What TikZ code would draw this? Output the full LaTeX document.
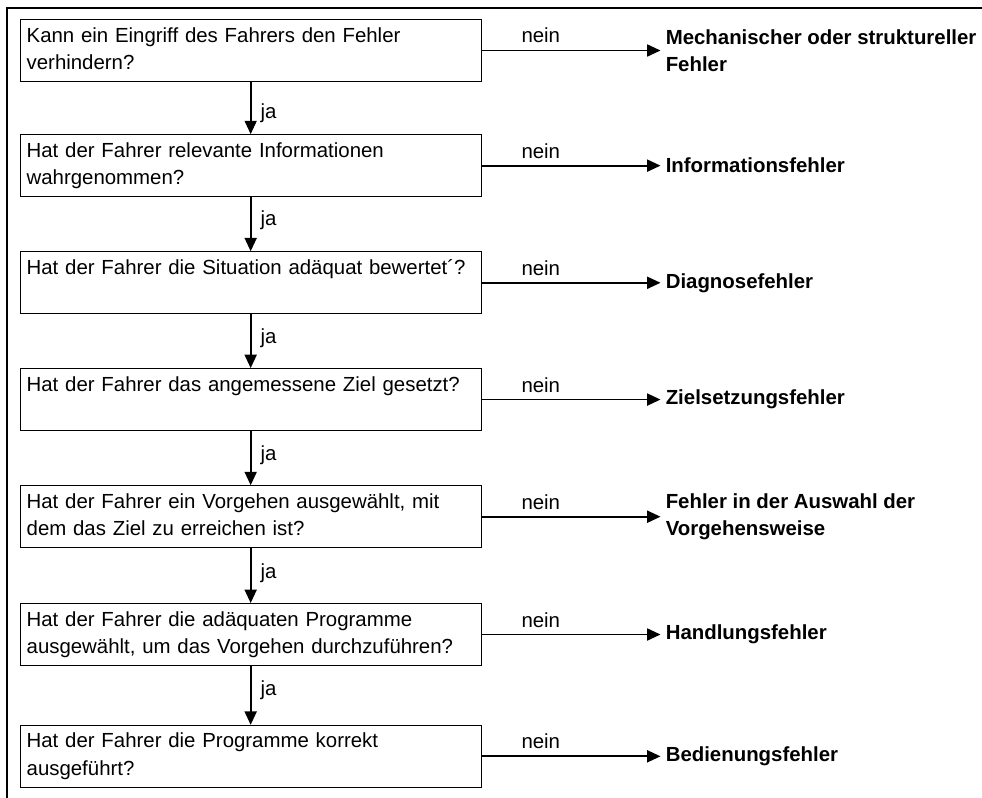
\documentclass[tikz,border=0pt]{standalone}
\usepackage{fontspec}
\setmainfont{Liberation Sans}
\usetikzlibrary{arrows.meta}
\usetikzlibrary{positioning}

\begin{document}
\begin{tikzpicture}[x=0.75pt, y=-0.75pt,
        frage/.style={rectangle, draw=black, line width=0.75pt, anchor=north west, align=left,
        text width=336pt, inner xsep=5pt, inner ysep=3pt, text height=14pt, text depth=26.5pt,
        font=\fontsize{15.3}{20.6}\selectfont},
        fehler/.style={rectangle, align=left, inner xsep=3.75pt, font=\fontsize{15.3}{20.6}\selectfont\bfseries},
        pfeil/.style={line width=1.3pt, -{Triangle[length=10pt, width=9pt]}},
        marke/.style={font=\fontsize{15.3}{17}\selectfont}]
    \useasboundingbox (0,0) rectangle (982,797);
    \clip (0,0) rectangle (982,797);
    \draw[line width=1.5pt] (7.3,8.3) rectangle (1000,820);

    \node[frage] (q1) at (19.5,19) {Kann ein Eingriff des Fahrers den Fehler\\verhindern?};
    \node[frage, below=39.1pt of q1] (q2) {Hat der Fahrer relevante Informationen\\wahrgenommen?};
    \node[frage, below=40.6pt of q2] (q3) {Hat der Fahrer die Situation adäquat bewertet´?};
    \node[frage, below=40.35pt of q3] (q4) {Hat der Fahrer das angemessene Ziel gesetzt?};
    \node[frage, below=40.6pt of q4] (q5) {Hat der Fahrer ein Vorgehen ausgewählt, mit\\dem das Ziel zu erreichen ist?};
    \node[frage, below=41.1pt of q5] (q6) {Hat der Fahrer die adäquaten Programme\\ausgewählt, um das Vorgehen durchzuführen?};
    \node[frage, below=44.1pt of q6] (q7) {Hat der Fahrer die Programme korrekt\\ausgeführt?};

    \node[fehler, right=134pt of q1] (f1) {Mechanischer oder struktureller\\Fehler};
    \node[fehler, right=134pt of q2] (f2) {Informationsfehler};
    \node[fehler, right=134pt of q3] (f3) {Diagnosefehler};
    \node[fehler, right=134pt of q4] (f4) {Zielsetzungsfehler};
    \node[fehler, right=134pt of q5] (f5) {Fehler in der Auswahl der\\Vorgehensweise};
    \node[fehler, right=134pt of q6] (f6) {Handlungsfehler};
    \node[fehler, right=134pt of q7] (f7) {Bedienungsfehler};

    \draw[pfeil] (q1.south) -- node[marke, right=3.5pt, pos=0.6] {ja} (q2.north);
    \draw[pfeil] (q2.south) -- node[marke, right=3.5pt, pos=0.42] {ja} (q3.north);
    \draw[pfeil] (q3.south) -- node[marke, right=3.5pt, pos=0.45] {ja} (q4.north);
    \draw[pfeil] (q4.south) -- node[marke, right=3.5pt, pos=0.45] {ja} (q5.north);
    \draw[pfeil] (q5.south) -- node[marke, right=3.5pt, pos=0.45] {ja} (q6.north);
    \draw[pfeil] (q6.south) -- node[marke, right=3.5pt, pos=0.42] {ja} (q7.north);

    \draw[pfeil] (q1.east) -- node[marke, above=1.5pt, pos=0.33] {nein} (f1.west);
    \draw[pfeil] (q2.east) -- node[marke, above=1.5pt, pos=0.33] {nein} (f2.west);
    \draw[pfeil] (q3.east) -- node[marke, above=1.5pt, pos=0.33] {nein} (f3.west);
    \draw[pfeil] (q4.east) -- node[marke, above=1.5pt, pos=0.33] {nein} (f4.west);
    \draw[pfeil] (q5.east) -- node[marke, above=1.5pt, pos=0.33] {nein} (f5.west);
    \draw[pfeil] (q6.east) -- node[marke, above=1.5pt, pos=0.33] {nein} (f6.west);
    \draw[pfeil] (q7.east) -- node[marke, above=1.5pt, pos=0.33] {nein} (f7.west);
\end{tikzpicture}
\end{document}
